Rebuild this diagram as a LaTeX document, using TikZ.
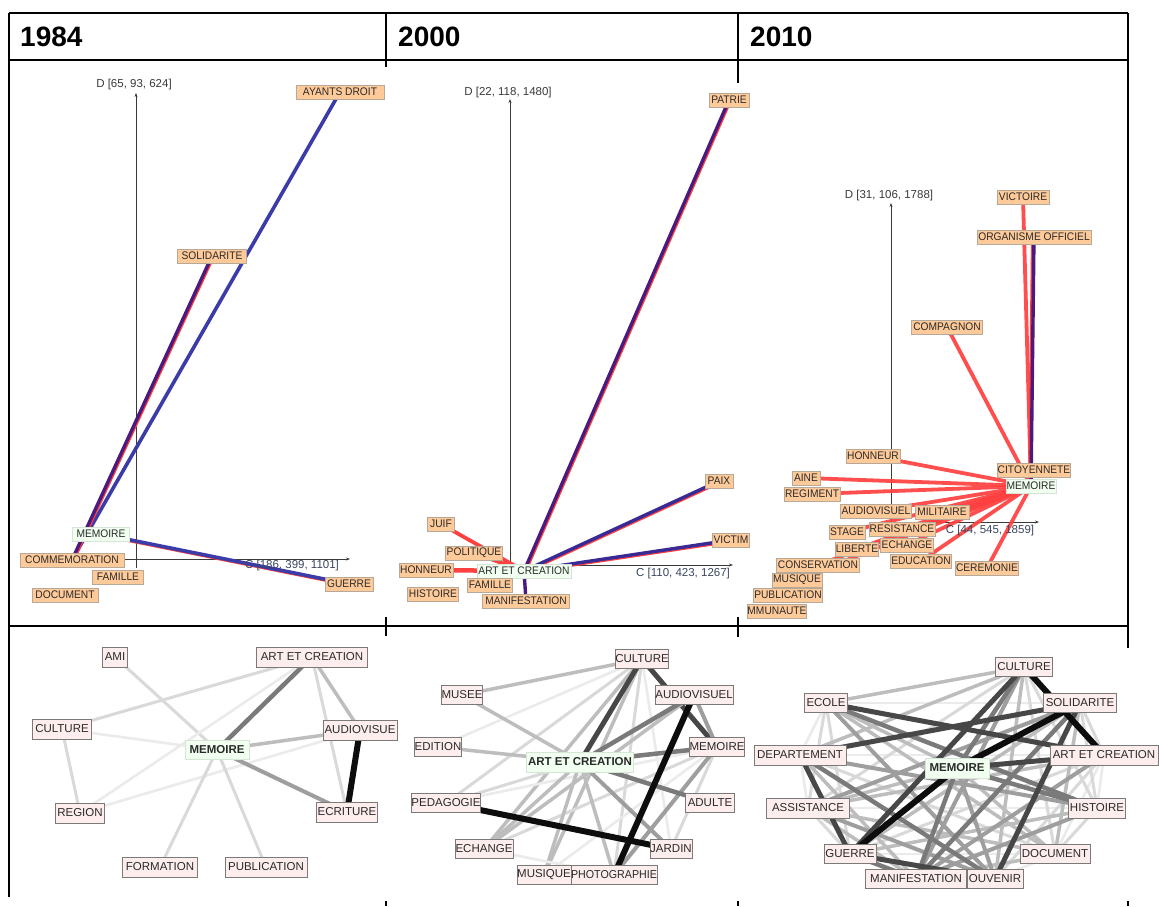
\documentclass[tikz,border=0pt]{standalone}
\usepackage{fontspec}
\setmainfont{Liberation Sans}
\newfontfamily\labfont[FakeStretch=0.93]{Liberation Sans}
\usetikzlibrary{arrows.meta}
\definecolor{peach}{HTML}{FFCA99}
\definecolor{peachb}{HTML}{B8A898}
\definecolor{greenf}{HTML}{F1FFF1}
\definecolor{greenb}{HTML}{D6E6D6}
\definecolor{pinkf}{HTML}{FDEDED}
\definecolor{bord}{HTML}{7A7A7A}
\definecolor{txt}{HTML}{2A2A2A}
\definecolor{axc}{HTML}{3A3A3A}
\definecolor{axl}{HTML}{3A4660}
\definecolor{redl}{HTML}{FF4040}
\definecolor{bluel}{HTML}{3C3CA8}
\definecolor{indig}{HTML}{3A2A96}
\definecolor{purp}{HTML}{4A1A7E}
\pgfdeclarelayer{bg}
\pgfsetlayers{bg,main}
\begin{document}
\begin{tikzpicture}[x=1pt,y=-1pt,
  frame/.style={draw=black, line width=2.4pt},
  head/.style={anchor=west, inner sep=0pt, font=\fontsize{28}{30}\selectfont\bfseries},
  tl/.style={draw=peachb, fill=peach, line width=0.7pt, inner sep=0pt, minimum height=14pt, text=txt, font=\labfont\fontsize{11}{12}\selectfont},
  tg/.style={tl, draw=greenb, fill=greenf},
  axis/.style={draw=axc, line width=0.7pt, -{Stealth[length=4pt,width=3pt]}},
  axlab/.style={inner sep=0pt, text=axc, font=\fontsize{11.5}{12}\selectfont},
  rl/.style={draw=redl, line width=3.8pt},
  rsh/.style={draw=redl, line width=3.6pt, transform canvas={shift={(0.9pt,-0.9pt)}}},
  rshl/.style={draw=redl, line width=3.6pt, transform canvas={shift={(-1.2pt,0pt)}}},
  bl/.style={draw=bluel, line width=3.6pt},
  il/.style={draw=indig, line width=3.4pt},
  pl/.style={draw=purp, line width=3.4pt},
  bn/.style={draw=bord, fill=pinkf, line width=0.9pt, inner sep=0pt, minimum height=20pt, text=txt, font=\fontsize{11.5}{12}\selectfont},
  bgn/.style={bn, draw=greenb, fill=greenf, font=\fontsize{11.5}{12}\selectfont\bfseries},
  g1/.style={draw=black!8, line width=2.6pt},
  g2/.style={draw=black!15, line width=3pt},
  g3/.style={draw=black!26, line width=3.5pt},
  g4/.style={draw=black!38, line width=4pt},
  g5/.style={draw=black!52, line width=4.5pt},
  g6/.style={draw=black!72, line width=5pt},
  g7/.style={draw=black!95, line width=6pt}
]
\useasboundingbox (0,0) rectangle (1159,906);
\begin{pgfonlayer}{bg}
\fill[white] (0,0) rectangle (1159,906);
\end{pgfonlayer}

% ---------- table frame ----------
\draw[frame] (9,13) -- (1128,13);
\draw[frame] (9,60) -- (1128,60);
\draw[frame] (9,626) -- (1128,626);
\draw[frame] (9,13) -- (9,897);
\draw[frame] (1128,13) -- (1128,648);
\draw[frame] (386,13) -- (386,67);
\draw[frame] (386,617) -- (386,636);
\draw[frame] (386,901) -- (386,906);
\draw[frame] (738,13) -- (738,83);
\draw[frame] (738,617) -- (738,637);
\draw[frame] (738,901) -- (738,906);
\draw[frame] (1128,901) -- (1128,906);

\node[head] (h1) at (20,37) {1984};
\node[head] (h2) at (398,37) {2000};
\node[head] (h3) at (750,37) {2010};

% ================= TOP 1984 =================
\coordinate (d1a) at (136,568);
\coordinate (d1b) at (136,93);
\coordinate (c1a) at (122,559);
\coordinate (c1b) at (350,559);
\node[axlab] (d1l) at (134,85) {D [65, 93, 624]};
\node[axlab, text=axl] (c1l) at (292,566) {C [186, 399, 1101]};

\node[tl, minimum width=88pt] (ay) at (340,92) {AYANTS DROIT};
\node[tl, minimum width=69pt] (so1) at (212,256) {SOLIDARITE};
\node[tl, minimum width=104pt] (com1) at (72,560) {COMMEMORATION};
\node[tg, minimum width=57pt] (me1) at (101,534) {MEMOIRE};
\node[tl, minimum width=51pt] (fa1) at (118,577) {FAMILLE};
\node[tl, minimum width=66pt] (do1) at (65,595) {DOCUMENT};
\node[tl, minimum width=48pt] (gu1) at (349,584) {GUERRE};

% ================= TOP 2000 =================
\coordinate (d2a) at (510,568);
\coordinate (d2b) at (510,99);
\coordinate (c2a) at (480,565);
\coordinate (c2b) at (733,565);
\node[axlab] (d2l) at (508,93) {D [22, 118, 1480]};
\node[axlab, text=axl] (c2l) at (683,574) {C [110, 423, 1267]};

\node[tl, minimum width=40pt] (pa2) at (729,100) {PATRIE};
\node[tl, minimum width=28pt] (px2) at (719,481) {PAIX};
\node[tl, minimum width=37pt] (vi2) at (731,540) {VICTIM};
\node[tl, minimum width=27pt] (ju2) at (441,524) {JUIF};
\node[tl, minimum width=57pt] (po2) at (474,553) {POLITIQUE};
\node[tl, minimum width=54pt] (ho2) at (426,570) {HONNEUR};
\node[tg, minimum width=94pt] (ar2) at (524,571) {ART ET CREATION};
\node[tl, minimum width=45pt] (fa2) at (490,585) {FAMILLE};
\node[tl, minimum width=51pt] (hi2) at (433,594) {HISTOIRE};
\node[tl, minimum width=87pt] (ma2) at (526,601) {MANIFESTATION};

% ================= TOP 2010 =================
\coordinate (d3a) at (891,522);
\coordinate (d3b) at (891,203);
\coordinate (c3a) at (880,522);
\coordinate (c3b) at (1039,522);
\node[axlab] (d3l) at (889,196) {D [31, 106, 1788]};
\node[axlab, text=axl] (c3l) at (990,531) {C [44, 545, 1859]};

\node[tl, minimum width=52pt] (vc3) at (1023,197) {VICTOIRE};
\node[tl, minimum width=114pt] (oo3) at (1034,237) {ORGANISME OFFICIEL};
\node[tl, minimum width=71pt] (cp3) at (947,327) {COMPAGNON};
\node[tl, minimum width=54pt] (ho3) at (873,456) {HONNEUR};
\node[tl, minimum width=28pt] (ai3) at (806,478) {AINE};
\node[tl, minimum width=56pt] (re3) at (812,494) {REGIMENT};
\node[tl, minimum width=73pt] (ci3) at (1034,470) {CITOYENNETE};
\node[tg, minimum width=50pt] (me3) at (1031,486) {MEMOIRE};
\node[tl, minimum width=71pt] (au3) at (876,511) {AUDIOVISUEL};
\node[tl, minimum width=54pt] (mi3) at (942,512) {MILITAIRE};
\node[tl, minimum width=36pt] (st3) at (847,532) {STAGE};
\node[tl, minimum width=66pt] (rs3) at (902,529) {RESISTANCE};
\node[tl, minimum width=43pt] (li3) at (857,549) {LIBERTE};
\node[tl, minimum width=53pt] (ec3) at (907,545) {ECHANGE};
\node[tl, minimum width=61pt] (ed3) at (921,561) {EDUCATION};
\node[tl, minimum width=83pt] (cn3) at (818,565) {CONSERVATION};
\node[tl, minimum width=63pt] (ce3) at (987,568) {CEREMONIE};
\node[tl, minimum width=50pt] (mu3) at (797,580) {MUSIQUE};
\node[tl, minimum width=69pt] (pu3) at (788,595) {PUBLICATION};
\node[tl, minimum width=56pt] (cm3) at (777,611) {MMUNAUTE};

\begin{pgfonlayer}{bg}
  \draw[axis] (d1a) -- (d1b);
  \draw[axis] (c1a) -- (c1b);
  \draw[axis] (d2a) -- (d2b);
  \draw[axis] (c2a) -- (c2b);
  \draw[axis] (d3a) -- (d3b);
  \draw[axis] (c3a) -- (c3b);
  % 1984
  \draw[bl] (ay.center) -- (com1.center);
  \draw[rsh] (so1.center) -- (com1.center);
  \draw[pl] (so1.center) -- (com1.center);
  \draw[rsh] (me1.center) -- (gu1.center);
  \draw[bl] (me1.center) -- (gu1.center);
  % 2000
  \draw[rl] (ju2.center) -- (ar2.center);
  \draw[rl] (po2.center) -- (ar2.center);
  \draw[rl, line width=4.5pt] (ho2.center) -- (ar2.center);
  \draw[rl] (fa2.center) -- (ar2.center);
  \draw[rsh] (ar2.center) -- (pa2.center);
  \draw[pl] (ar2.center) -- (pa2.center);
  \draw[rsh] (ar2.center) -- (px2.center);
  \draw[il] (ar2.center) -- (px2.center);
  \draw[rsh] (ar2.center) -- (vi2.center);
  \draw[il] (ar2.center) -- (vi2.center);
  \draw[pl] (ar2.center) -- (ma2.center);
  % 2010
  \foreach \n in {vc3,cp3,ho3,ai3,re3,au3,mi3,st3,rs3,li3,ec3,ed3,cn3,mu3,ce3}
    \draw[rl, draw opacity=0.92] (\n.center) -- (me3.center);
  \draw[rshl] (oo3.center) -- (me3.center);
  \draw[pl] (oo3.center) -- (me3.center);
\end{pgfonlayer}

% ================= BOTTOM 1984 =================
\node[bn, minimum width=25pt] (b1ami) at (115,657) {AMI};
\node[bn, minimum width=111pt] (b1art) at (312,657) {ART ET CREATION};
\node[bn, minimum width=59pt] (b1cul) at (62,729) {CULTURE};
\node[bgn, minimum width=64pt, minimum height=19pt] (b1mem) at (217,750) {MEMOIRE};
\node[bn, minimum width=74pt] (b1aud) at (360,730) {AUDIOVISUE};
\node[bn, minimum width=49pt] (b1reg) at (80,813) {REGION};
\node[bn, minimum width=61pt] (b1ecr) at (347,812) {ECRITURE};
\node[bn, minimum width=75pt] (b1for) at (160,867) {FORMATION};
\node[bn, minimum width=82pt] (b1pub) at (266,867) {PUBLICATION};

\begin{pgfonlayer}{bg}
  \draw[g2] (b1ami.center) -- (b1mem.center);
  \draw[g2] (b1art.center) -- (b1cul.center);
  \draw[g1] (b1art.center) -- (b1reg.center);
  \draw[g2] (b1art.center) -- (b1ecr.center);
  \draw[g3] (b1art.center) -- (b1aud.center);
  \draw[g5] (b1art.center) -- (b1mem.center);
  \draw[g1] (b1cul.center) -- (b1mem.center);
  \draw[g2] (b1cul.center) -- (b1reg.center);
  \draw[g1] (b1aud.center) -- (b1reg.center);
  \draw[g3] (b1mem.center) -- (b1aud.center);
  \draw[g4] (b1mem.center) -- (b1ecr.center);
  \draw[g2] (b1mem.center) -- (b1for.center);
  \draw[g2] (b1mem.center) -- (b1pub.center);
  \draw[g7] (b1aud.center) -- (b1ecr.center);
\end{pgfonlayer}

% ================= BOTTOM 2000 =================
\node[bn, minimum width=53pt, minimum height=19pt] (b2cul) at (642,659) {CULTURE};
\node[bn, minimum width=40pt, minimum height=19pt] (b2mus) at (462,695) {MUSEE};
\node[bn, minimum width=78pt, minimum height=19pt] (b2aud) at (694,695) {AUDIOVISUEL};
\node[bn, minimum width=44pt, minimum height=19pt] (b2edi) at (438,747) {EDITION};
\node[bn, minimum width=51pt, minimum height=19pt] (b2mem) at (717,747) {MEMOIRE};
\node[bgn, minimum width=107pt] (b2art) at (580,762) {ART ET CREATION};
\node[bn, minimum width=68pt, minimum height=19pt] (b2ped) at (446,803) {PEDAGOGIE};
\node[bn, minimum width=49pt, minimum height=19pt] (b2adu) at (710,803) {ADULTE};
\node[bn, minimum width=58pt, minimum height=19pt] (b2ech) at (484,849) {ECHANGE};
\node[bn, minimum width=42pt, minimum height=19pt] (b2jar) at (671,849) {JARDIN};
\node[bn, minimum width=87pt, minimum height=19pt, font=\labfont\fontsize{11.5}{12}\selectfont] (b2pho) at (614,875) {PHOTOGRAPHIE};
\node[bn, minimum width=54pt, minimum height=19pt] (b2msq) at (544,875) {MUSIQUE};

\begin{pgfonlayer}{bg}
  \draw[g1] (b2cul.center) -- (b2edi.center);
  \draw[g1] (b2cul.center) -- (b2jar.center);
  \draw[g2] (b2cul.center) -- (b2ped.center);
  \draw[g2] (b2cul.center) -- (b2pho.center);
  \draw[g3] (b2cul.center) -- (b2mus.center);
  \draw[g3] (b2cul.center) -- (b2ech.center);
  \draw[g3] (b2cul.center) -- (b2msq.center);
  \draw[g6] (b2cul.center) -- (b2mem.center);
  \draw[g6] (b2cul.center) -- (b2art.center);
  \draw[g1] (b2mem.center) -- (b2ped.center);
  \draw[g1] (b2mem.center) -- (b2msq.center);
  \draw[g2] (b2mem.center) -- (b2jar.center);
  \draw[g2] (b2mem.center) -- (b2ech.center);
  \draw[g4] (b2mem.center) -- (b2pho.center);
  \draw[g5] (b2mem.center) -- (b2art.center);
  \draw[g4] (b2aud.center) -- (b2mem.center);
  \draw[g3] (b2aud.center) -- (b2ech.center);
  \draw[g5] (b2aud.center) -- (b2art.center);
  \draw[g3] (b2mus.center) -- (b2art.center);
  \draw[g3] (b2edi.center) -- (b2art.center);
  \draw[g2] (b2ped.center) -- (b2art.center);
  \draw[g5] (b2art.center) -- (b2adu.center);
  \draw[g3] (b2art.center) -- (b2pho.center);
  \draw[g3] (b2art.center) -- (b2msq.center);
  \draw[g3] (b2art.center) -- (b2ech.center);
  \draw[g4] (b2art.center) -- (b2jar.center);
  \draw[g1] (b2ech.center) -- (b2pho.center);
  \draw[g7] (b2ped.center) -- (b2jar.center);
  \draw[g7] (b2aud.center) -- (b2pho.center);
\end{pgfonlayer}

% ================= BOTTOM 2010 =================
\node[bn, minimum width=57pt, minimum height=19pt] (b3cu) at (1024,667) {CULTURE};
\node[bn, minimum width=43pt, minimum height=19pt] (b3ec) at (826,703) {ECOLE};
\node[bn, minimum width=73pt, minimum height=19pt] (b3so) at (1080,703) {SOLIDARITE};
\node[bn, minimum width=92pt] (b3de) at (800,755) {DEPARTEMENT};
\node[bn, minimum width=108pt] (b3ar) at (1104,755) {ART ET CREATION};
\node[bgn, minimum width=64pt] (b3me) at (957,768) {MEMOIRE};
\node[bn, minimum width=83pt] (b3as) at (808,808) {ASSISTANCE};
\node[bn, minimum width=57pt] (b3hi) at (1097,808) {HISTOIRE};
\node[bn, minimum width=52pt, minimum height=19pt] (b3gu) at (850,854) {GUERRE};
\node[bn, minimum width=70pt, minimum height=19pt] (b3do) at (1055,854) {DOCUMENT};
\node[bn, minimum width=56pt, minimum height=19pt] (b3ou) at (995,879) {OUVENIR};
\node[bn, minimum width=101pt, minimum height=19pt] (b3ma) at (916,879) {MANIFESTATION};

\begin{pgfonlayer}{bg}
  \draw[g1] (b3ec.center) -- (b3so.center);
  \draw[g1] (b3ar.center) -- (b3do.center);
  \draw[g1] (b3gu.center) -- (b3do.center);
  \draw[g1] (b3de.center) -- (b3ar.center);
  \draw[g1] (b3as.center) -- (b3hi.center);
  \draw[g1] (b3ec.center) -- (b3de.center);
  \draw[g1] (b3de.center) -- (b3as.center);
  \draw[g1] (b3ar.center) -- (b3hi.center);
  \draw[g1] (b3do.center) -- (b3ou.center);
  \draw[g2] (b3cu.center) -- (b3as.center);
  \draw[g2] (b3cu.center) -- (b3do.center);
  \draw[g2] (b3cu.center) -- (b3hi.center);
  \draw[g2] (b3ec.center) -- (b3gu.center);
  \draw[g2] (b3ec.center) -- (b3as.center);
  \draw[g2] (b3so.center) -- (b3hi.center);
  \draw[g2] (b3de.center) -- (b3do.center);
  \draw[g2] (b3ar.center) -- (b3gu.center);
  \draw[g2] (b3ar.center) -- (b3ou.center);
  \draw[g2] (b3as.center) -- (b3gu.center);
  \draw[g2] (b3hi.center) -- (b3do.center);
  \draw[g2] (b3so.center) -- (b3ar.center);
  \draw[g3] (b3cu.center) -- (b3ec.center);
  \draw[g3] (b3cu.center) -- (b3de.center);
  \draw[g3] (b3cu.center) -- (b3ou.center);
  \draw[g3] (b3ec.center) -- (b3me.center);
  \draw[g3] (b3ec.center) -- (b3do.center);
  \draw[g3] (b3so.center) -- (b3gu.center);
  \draw[g3] (b3so.center) -- (b3do.center);
  \draw[g3] (b3de.center) -- (b3ma.center);
  \draw[g3] (b3ar.center) -- (b3as.center);
  \draw[g3] (b3me.center) -- (b3do.center);
  \draw[g3] (b3me.center) -- (b3as.center);
  \draw[g3] (b3as.center) -- (b3do.center);
  \draw[g3] (b3hi.center) -- (b3gu.center);
  \draw[g3] (b3do.center) -- (b3ma.center);
  \draw[g3] (b3as.center) -- (b3ma.center);
  \draw[g4] (b3cu.center) -- (b3ma.center);
  \draw[g4] (b3ec.center) -- (b3ou.center);
  \draw[g4] (b3so.center) -- (b3as.center);
  \draw[g4] (b3de.center) -- (b3hi.center);
  \draw[g4] (b3ar.center) -- (b3ma.center);
  \draw[g4] (b3me.center) -- (b3ou.center);
  \draw[g4] (b3as.center) -- (b3ou.center);
  \draw[g4] (b3hi.center) -- (b3ma.center);
  \draw[g5] (b3cu.center) -- (b3me.center);
  \draw[g5] (b3ec.center) -- (b3hi.center);
  \draw[g5] (b3so.center) -- (b3ma.center);
  \draw[g5] (b3de.center) -- (b3ou.center);
  \draw[g5] (b3me.center) -- (b3ma.center);
  \draw[g5] (b3me.center) -- (b3hi.center);
  \draw[g5] (b3gu.center) -- (b3ma.center);
  \draw[g6] (b3cu.center) -- (b3gu.center);
  \draw[g6] (b3ec.center) -- (b3ar.center);
  \draw[g6] (b3so.center) -- (b3de.center);
  \draw[g6] (b3so.center) -- (b3ou.center);
  \draw[g6] (b3de.center) -- (b3gu.center);
  \draw[g6] (b3ar.center) -- (b3me.center);
  \draw[g6] (b3gu.center) -- (b3ou.center);
  \draw[g7] (b3cu.center) -- (b3ar.center);
  \draw[g7] (b3so.center) -- (b3me.center);
  \draw[g7] (b3me.center) -- (b3gu.center);
\end{pgfonlayer}
\end{tikzpicture}
\end{document}
